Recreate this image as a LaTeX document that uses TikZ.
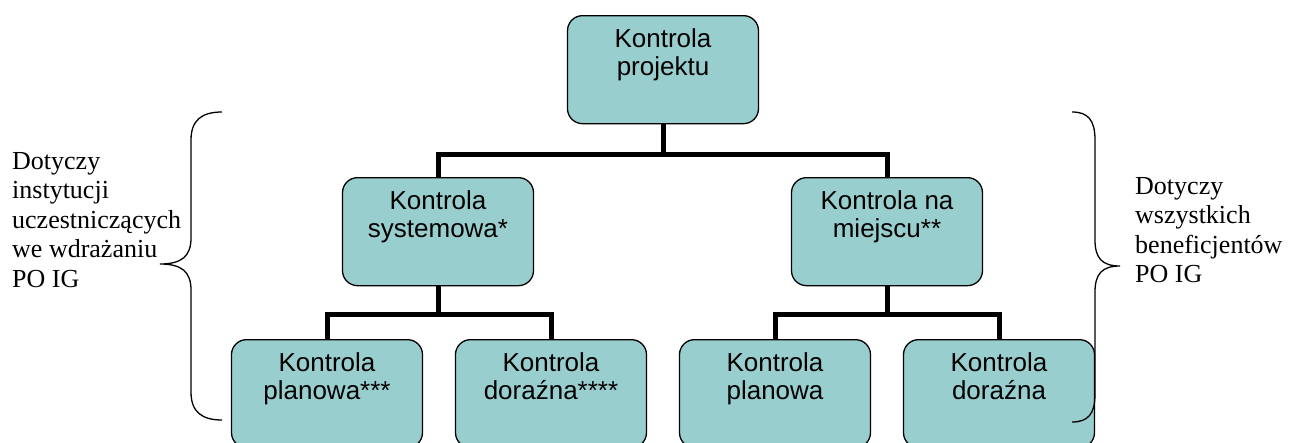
\documentclass[tikz,border=0pt]{standalone}
\usepackage{fontspec}
\setmainfont{Liberation Serif}
\setsansfont{Liberation Sans}
\usetikzlibrary{backgrounds}
\definecolor{boxfill}{RGB}{153,206,206}
\tikzset{
	ctrlbox/.style={draw=black, fill=boxfill, line width=1.3pt, rounded corners=15pt, anchor=north,
		minimum width=191pt, inner sep=0pt, text height=60pt, text depth=48pt,
		align=center, font=\sffamily\fontsize{26}{28}\selectfont},
	conn/.style={line width=5pt},
	brace/.style={line width=1.3pt},
	note/.style={anchor=north west, inner sep=0pt, align=left, font=\fontsize{26}{29.5}\selectfont}
}
\begin{document}
\begin{tikzpicture}[x=1pt,y=-1pt]
			\useasboundingbox (0,0) rectangle (1291,442);
			\clip (0,0) rectangle (1291,442);
			
			\node[ctrlbox] (proj) at (663,15) {Kontrola\\projektu};
			\node[ctrlbox] (sys) at (438,177) {Kontrola\\systemowa*};
			\node[ctrlbox] (msc) at (887,177) {Kontrola na\\miejscu**};
			\node[ctrlbox] (sysplan) at (327,339) {Kontrola\\planowa***};
			\node[ctrlbox] (sysdor) at (551,339) {Kontrola\\doraźna****};
			\node[ctrlbox] (mscplan) at (775,339) {Kontrola\\planowa};
			\node[ctrlbox] (mscdor) at (999,339) {Kontrola\\doraźna};
			
			\begin{scope}[on background layer]
			\draw[conn] (proj.south) -- ++(0,30) -| (sys.north);
			\draw[conn] (proj.south) -- ++(0,30) -| (msc.north);
			\draw[conn] (sys.south) -- ++(0,28) -| (sysplan.north);
			\draw[conn] (sys.south) -- ++(0,28) -| (sysdor.north);
			\draw[conn] (msc.south) -- ++(0,28) -| (mscplan.north);
			\draw[conn] (msc.south) -- ++(0,28) -| (mscdor.north);
			\end{scope}
			
			% klamry
			\draw[brace] (222,112) .. controls (202,112) and (191,120) .. (191,140) -- (191,238)
				.. controls (191,256) and (182,264) .. (160,264)
				.. controls (182,264) and (191,272) .. (191,290) -- (191,392)
				.. controls (191,412) and (202,420) .. (222,420);
			\draw[brace] (1072,112) .. controls (1088,112) and (1095,120) .. (1095,140) -- (1095,240)
				.. controls (1095,258) and (1102,266) .. (1120,266)
				.. controls (1102,266) and (1095,274) .. (1095,292) -- (1095,394)
				.. controls (1095,414) and (1088,422) .. (1072,422);
			
			\node[note] (instyt) at (12,152) {Dotyczy\\instytucji\\uczestniczących\\we wdrażaniu\\PO IG};
			\node[note] (benef) at (1135,177) {Dotyczy\\wszystkich\\beneficjentów\\PO IG};
\end{tikzpicture}
\end{document}
